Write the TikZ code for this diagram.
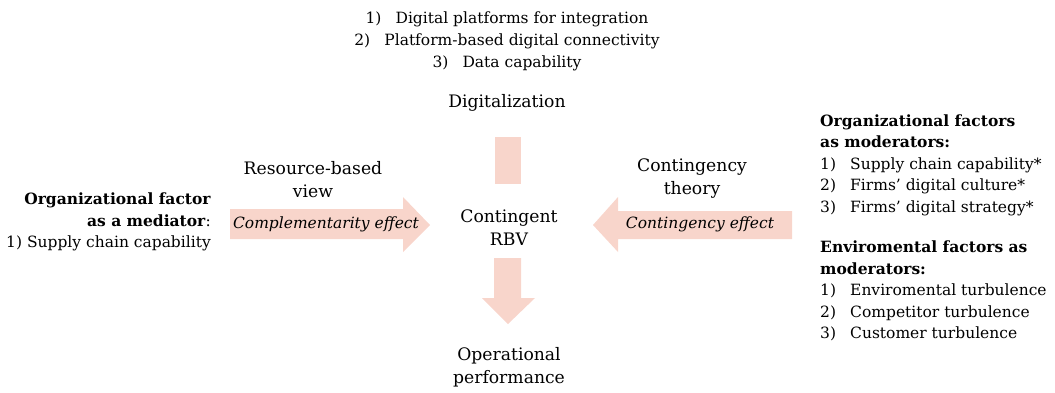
\documentclass[tikz,border=0pt]{standalone}
\usepackage{fontspec}
\setmainfont{DejaVu Serif}
\definecolor{arrowfill}{HTML}{F8D5CB}
\newcommand{\itemno}[1]{\makebox[30pt][l]{#1}}
\begin{document}
\begin{tikzpicture}[x=1pt,y=-1pt,
  concept/.style={font=\fontsize{17.2}{23.5}\selectfont, inner sep=0pt, align=center},
  small/.style={font=\fontsize{15.5}{22}\selectfont, inner sep=0pt, align=center},
  side/.style={font=\fontsize{15.5}{21.5}\selectfont, inner sep=0pt},
  flow/.style={fill=arrowfill}]
\useasboundingbox (0,0) rectangle (1055,392);

% measures of the digitalization construct
\node[small] (measures) at (507,41)
  {\itemno{1)}Digital platforms for integration\\
   \itemno{2)}Platform-based digital connectivity\\
   \itemno{3)}Data capability};

% core concepts
\node[concept] (digi) at (507,103) {Digitalization};
\node[concept] (crbv) at (509,227.5) {Contingent\\RBV};
\node[concept] (perf) at (509,367) {Operational\\performance};

% theoretical lenses
\node[concept] (rbvlens) at (313,179.5) {Resource-based\\view};
\node[concept] (ctlens) at (692,178.5) {Contingency\\theory};

% block arrows
\fill[flow] (495,137) rectangle (521,184);
\fill[flow] (494,258) -- (521,258) -- (521,298) -- (535,298) -- (508,324)
  -- (482,298) -- (494,298) -- cycle;
\fill[flow] (230,209) -- (403,209) -- (403,197) -- (430,225) -- (403,252)
  -- (403,239) -- (230,239) -- cycle;
\fill[flow] (792,211) -- (618,211) -- (618,197) -- (593,225) -- (618,252)
  -- (618,239) -- (792,239) -- cycle;

\node[small, font=\fontsize{15.5}{22}\selectfont\itshape] (compl) at (326,224) {Complementarity effect};
\node[small, font=\fontsize{15.5}{22}\selectfont\itshape] (conteff) at (700,224) {Contingency effect};

% mediator
\node[side, align=right, anchor=east] (mediator) at (211,222)
  {\textbf{Organizational factor}\\
   \textbf{as a mediator}:\\
   1) Supply chain capability};

% moderators
\node[side, align=left, anchor=west] (orgmod) at (820,165)
  {\textbf{Organizational factors}\\
   \textbf{as moderators:}\\
   \itemno{1)}Supply chain capability*\\
   \itemno{2)}Firms’ digital culture*\\
   \itemno{3)}Firms’ digital strategy*};
\node[side, align=left, anchor=west] (envmod) at (820,291)
  {\textbf{Enviromental factors as}\\
   \textbf{moderators:}\\
   \itemno{1)}Enviromental turbulence\\
   \itemno{2)}Competitor turbulence\\
   \itemno{3)}Customer turbulence};
\end{tikzpicture}
\end{document}
